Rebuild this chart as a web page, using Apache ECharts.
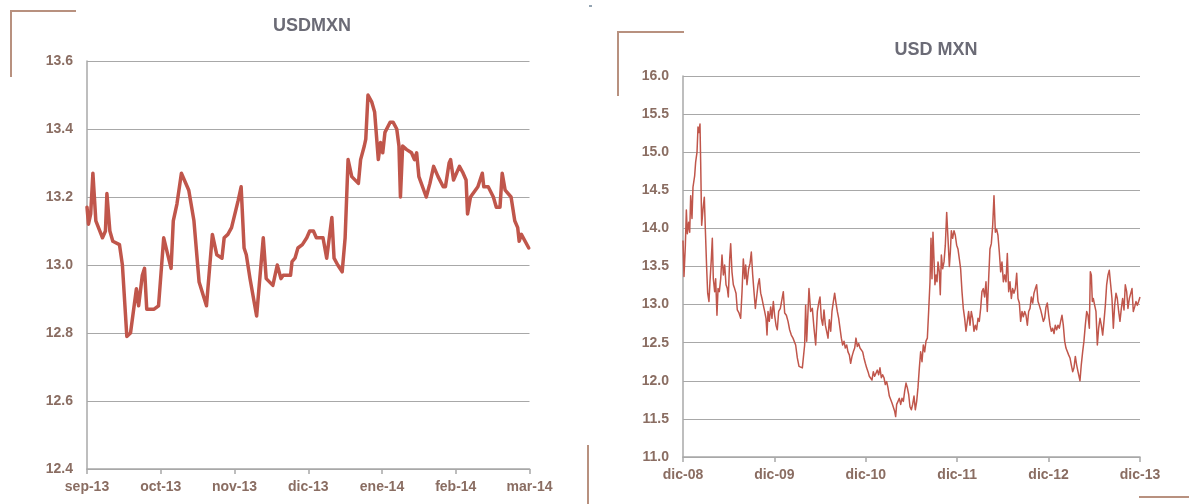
<!DOCTYPE html>
<html><head><meta charset="utf-8">
<script src="https://cdn.jsdelivr.net/npm/echarts@6/dist/echarts.min.js"></script>
<style>html,body{margin:0;padding:0;background:#fff}#c{width:1189px;height:504px}</style>
</head><body><div id="c"></div>
<script>
// ---- Left chart: USDMXN, sep-13 .. mar-14 (x in months since 1 sep 2013)
const shortMonthLabels = ['sep-13','oct-13','nov-13','dic-13','ene-14','feb-14','mar-14'];
const shortT = [0.00,0.02,0.05,0.08,0.12,0.21,0.25,0.27,0.31,0.35,0.44,0.48,0.54,0.59,0.67,0.70,0.75,0.78,0.81,0.91,0.97,
 1.04,1.14,1.17,1.22,1.28,1.38,1.45,1.52,1.62,1.64,1.70,1.76,1.83,1.86,1.91,1.96,
 2.05,2.09,2.13,2.16,2.21,2.30,2.32,2.39,2.43,2.52,2.58,2.63,2.66,2.76,2.78,2.82,2.86,2.92,2.98,
 3.02,3.07,3.11,3.20,3.25,3.32,3.35,3.40,3.46,3.50,3.54,3.59,3.68,3.71,3.76,3.78,3.81,3.86,3.90,3.95,3.98,
 4.01,4.04,4.11,4.15,4.20,4.23,4.25,4.28,4.33,4.40,4.44,4.47,4.50,4.60,4.65,4.70,4.76,4.83,4.86,4.91,4.93,4.97,
 5.05,5.10,5.14,5.16,5.20,5.30,5.36,5.38,5.44,5.51,5.55,5.60,5.63,5.67,5.75,5.80,5.84,5.86,5.89,5.99];
const shortRate = [13.17,13.12,13.15,13.27,13.13,13.08,13.10,13.21,13.10,13.07,13.06,13.00,12.79,12.80,12.93,12.88,12.97,12.99,12.87,12.87,12.88,
 13.08,12.99,13.13,13.18,13.27,13.22,13.13,12.95,12.88,12.88,13.09,13.03,13.02,13.08,13.09,13.11,
 13.19,13.23,13.05,13.03,12.96,12.85,12.85,13.08,12.96,12.94,13.00,12.96,12.97,12.97,13.01,13.02,13.05,13.06,13.08,
 13.10,13.10,13.08,13.08,13.02,13.14,13.02,13.00,12.98,13.08,13.31,13.26,13.24,13.31,13.35,13.37,13.50,13.48,13.45,13.31,13.36,
 13.33,13.39,13.42,13.42,13.40,13.35,13.20,13.35,13.34,13.33,13.31,13.33,13.26,13.20,13.24,13.29,13.26,13.23,13.23,13.30,13.31,13.25,
 13.29,13.27,13.25,13.15,13.20,13.23,13.27,13.23,13.23,13.20,13.17,13.17,13.27,13.22,13.20,13.13,13.11,13.07,13.09,13.05];

// ---- Right chart: USD MXN, dic-08 .. dic-13 (x in months since dec 2008)
const longYearLabels = ['dic-08','dic-09','dic-10','dic-11','dic-12','dic-13'];
const longT = [0,0.13,0.31,0.44,0.57,0.74,0.88,1.01,1.18,1.31,1.44,1.53,1.66,1.84,1.97,2.10,2.23,2.32,2.45,2.63,2.80,2.93,
 3.11,3.24,3.41,3.54,3.72,3.85,3.98,4.16,4.29,4.46,4.60,4.77,4.95,5.12,5.30,5.47,5.65,5.82,5.95,6.13,6.26,6.43,6.61,6.78,6.96,
 7.13,7.35,7.57,7.75,7.92,8.10,8.23,8.40,8.62,8.80,8.97,9.15,9.32,9.50,9.67,9.85,10.02,10.20,10.37,10.55,10.72,10.90,
 11.03,11.16,11.33,11.51,11.68,11.86,12.03,12.21,12.38,12.56,12.78,13.00,13.17,13.35,13.57,13.79,14.00,14.22,14.44,
 14.57,14.79,15.01,15.23,15.45,15.67,15.80,15.97,16.10,16.24,16.41,16.54,16.67,16.76,16.98,17.20,17.42,17.64,17.85,17.99,
 18.16,18.34,18.51,18.69,18.86,19.04,19.21,19.39,19.56,19.74,19.91,20.09,20.26,20.44,20.61,20.79,20.96,21.14,21.31,21.49,
 21.66,21.84,22.01,22.19,22.36,22.54,22.71,22.89,23.06,23.24,23.41,23.59,23.76,23.94,24.11,24.29,24.46,24.64,24.81,24.99,
 25.16,25.34,25.51,25.69,25.86,26.04,26.21,26.39,26.56,26.74,26.91,27.09,27.26,27.44,27.61,27.79,27.92,28.05,28.23,28.40,
 28.58,28.75,28.93,29.10,29.28,29.45,29.63,29.80,29.98,30.15,30.33,30.50,30.68,30.85,31.03,31.20,31.38,31.55,31.73,31.90,
 32.08,32.25,32.43,32.56,32.69,32.82,32.95,33.08,33.22,33.35,33.48,33.65,33.78,33.92,34.09,34.27,34.44,34.62,34.79,34.97,
 35.10,35.23,35.40,35.58,35.75,35.93,36.10,36.28,36.45,36.63,36.80,36.98,37.15,37.33,37.50,37.68,37.85,38.03,38.20,38.38,
 38.55,38.73,38.90,39.08,39.25,39.43,39.60,39.78,39.95,40.13,40.30,40.48,40.66,40.83,41.01,41.18,41.35,41.53,41.71,41.88,
 42.06,42.23,42.41,42.58,42.76,42.93,43.11,43.28,43.46,43.63,43.81,43.98,44.16,44.33,44.51,44.68,44.86,
 45.03,45.21,45.38,45.56,45.73,45.91,46.08,46.26,46.43,46.61,46.78,46.96,47.13,47.31,47.48,47.66,47.83,48.01,48.18,48.36,
 48.53,48.71,48.88,49.06,49.23,49.41,49.58,49.76,49.93,50.11,50.28,50.46,50.63,50.81,50.98,51.16,51.33,51.51,51.68,51.86,
 52.03,52.12,52.29,52.47,52.64,52.82,53.00,53.17,53.35,53.48,53.61,53.74,53.87,54.05,54.22,54.40,54.57,54.75,54.92,55.10,
 55.27,55.45,55.62,55.80,55.97,56.15,56.32,56.50,56.67,56.85,57.02,57.20,57.37,57.55,57.72,57.90,58.07,58.25,58.42,58.60,
 58.77,58.95,59.12,59.30,59.47,59.65,59.82,60.00];
const longRate = [13.84,13.37,13.78,14.24,13.93,14.08,13.95,14.43,14.13,14.54,14.52,14.69,14.87,15.00,15.33,15.26,15.37,14.87,14.04,14.26,14.41,14.00,
 13.47,13.15,13.04,13.30,13.60,13.87,13.34,13.17,13.34,12.86,13.21,13.17,13.34,13.65,13.39,13.52,13.26,13.21,13.10,13.60,13.80,13.43,13.26,13.21,13.15,
 12.93,12.89,12.82,13.17,13.60,13.34,13.52,13.26,13.47,13.54,13.69,13.39,13.17,12.95,13.10,13.26,13.34,13.15,13.08,12.99,12.91,12.82,
 12.60,12.91,12.78,12.97,12.82,13.04,12.86,12.73,12.67,12.91,12.95,12.93,13.17,12.89,12.86,12.78,12.67,12.60,12.56,
 12.56,12.47,12.30,12.19,12.21,12.17,12.30,12.47,12.99,12.52,12.91,13.21,13.23,12.91,12.95,12.69,12.47,12.91,13.04,13.10,
 12.82,12.73,12.93,12.73,12.65,12.56,12.80,12.65,12.91,13.04,13.15,13.02,12.91,12.82,12.69,12.56,12.47,12.52,12.43,12.47,
 12.38,12.34,12.23,12.32,12.38,12.43,12.56,12.45,12.49,12.43,12.43,12.38,12.30,12.23,12.17,12.12,12.06,12.08,12.01,12.12,
 12.06,12.08,12.14,12.08,12.17,12.04,12.08,12.04,11.95,11.99,11.91,11.80,11.82,11.71,11.69,11.60,11.53,11.69,11.73,11.77,
 11.69,11.77,11.73,11.86,11.97,11.91,11.82,11.66,11.62,11.69,11.80,11.62,11.73,11.91,12.17,12.38,12.25,12.47,12.38,12.52,
 12.56,12.91,13.30,13.87,13.34,13.95,13.97,13.26,13.39,13.30,13.56,13.43,13.13,13.65,13.47,13.56,13.78,14.21,13.87,13.50,
 13.69,13.97,13.87,13.97,13.91,13.78,13.73,13.60,13.47,13.17,12.95,12.82,12.65,12.78,12.91,12.73,12.91,12.82,12.65,12.73,
 12.67,12.82,12.78,12.95,13.17,13.21,13.10,13.30,12.91,13.34,13.73,13.80,14.04,14.43,13.95,13.99,13.91,13.69,13.43,13.56,
 13.30,13.39,13.30,13.67,13.17,13.30,13.08,13.21,13.15,13.21,13.41,13.08,13.02,12.78,12.91,12.84,12.91,
 12.86,12.73,12.91,12.95,13.10,13.02,13.15,13.21,13.26,13.04,12.99,12.93,12.86,12.78,12.82,12.97,13.02,12.86,12.73,12.65,
 12.69,12.62,12.73,12.67,12.73,12.69,12.78,12.86,12.73,12.52,12.43,12.41,12.34,12.30,12.21,12.12,12.17,12.32,12.21,12.12,
 12.10,12.00,12.21,12.38,12.52,12.73,12.91,12.86,12.69,13.43,13.39,13.04,13.08,12.99,12.91,12.47,12.69,12.82,12.73,12.60,
 12.78,12.99,13.26,13.39,13.45,13.26,13.08,12.69,12.99,13.15,13.08,12.91,12.78,12.95,13.08,12.93,13.26,13.17,12.95,13.08,
 13.08,13.21,12.91,12.97,13.04,12.99,13.04,13.10];

const zip = (a, b) => a.map((x, i) => [x, b[i]]);

const FONT = '"Liberation Sans", Arial, sans-serif';
const LABEL = '#8a6d62';
const GRID = '#a8a8a8';
const LINE = '#c0564b';
const DECO = '#b8917f';

const axisLabelStyle = { color: LABEL, fontFamily: FONT, fontSize: 14, fontWeight: 'bold' };

const chart = echarts.init(document.getElementById('c'), null, { renderer: 'canvas' });
chart.setOption({
  animation: false,
  backgroundColor: '#fff',
  title: [
    { text: 'USDMXN', left: 307, top: 12, textAlign: 'center',
      textStyle: { color: '#6b6b76', fontFamily: FONT, fontSize: 18, fontWeight: 'bold' } },
    { text: 'USD MXN', left: 931, top: 36, textAlign: 'center',
      textStyle: { color: '#6b6b76', fontFamily: FONT, fontSize: 18, fontWeight: 'bold' } }
  ],
  grid: [
    { left: 87, top: 61, width: 442.5, height: 408, containLabel: false },
    { left: 683, top: 76, width: 457, height: 381, containLabel: false }
  ],
  xAxis: [
    { type: 'value', gridIndex: 0, min: 0, max: 6, interval: 1,
      axisLine: { show: true, lineStyle: { color: GRID, width: 1.5 } },
      axisTick: { show: true, length: 5, lineStyle: { color: GRID, width: 1.5 } },
      splitLine: { show: false },
      axisLabel: Object.assign({ margin: 11, showMinLabel: true, showMaxLabel: true,
        formatter: v => shortMonthLabels[Math.round(v)] }, axisLabelStyle) },
    { type: 'value', gridIndex: 1, min: 0, max: 60, interval: 12,
      axisLine: { show: true, lineStyle: { color: GRID, width: 1.5 } },
      axisTick: { show: true, length: 5, lineStyle: { color: GRID, width: 1.5 } },
      splitLine: { show: false },
      axisLabel: Object.assign({ margin: 11, showMinLabel: true, showMaxLabel: true,
        formatter: v => longYearLabels[Math.round(v / 12)] }, axisLabelStyle) }
  ],
  yAxis: [
    { type: 'value', gridIndex: 0, min: 12.4, max: 13.6, interval: 0.2,
      axisLine: { show: true, lineStyle: { color: GRID, width: 1.5 } },
      axisTick: { show: false },
      splitLine: { show: true, lineStyle: { color: GRID, width: 1 } },
      axisLabel: Object.assign({ margin: 14, formatter: v => v.toFixed(1) }, axisLabelStyle) },
    { type: 'value', gridIndex: 1, min: 11, max: 16, interval: 0.5,
      axisLine: { show: true, lineStyle: { color: GRID, width: 1.5 } },
      axisTick: { show: false },
      splitLine: { show: true, lineStyle: { color: GRID, width: 1 } },
      axisLabel: Object.assign({ margin: 14, formatter: v => v.toFixed(1) }, axisLabelStyle) }
  ],
  series: [
    { type: 'line', xAxisIndex: 0, yAxisIndex: 0, data: zip(shortT, shortRate),
      showSymbol: false, symbol: 'none',
      lineStyle: { color: LINE, width: 3.5, join: 'round', cap: 'round' } },
    { type: 'line', xAxisIndex: 1, yAxisIndex: 1, data: zip(longT, longRate),
      showSymbol: false, symbol: 'none',
      lineStyle: { color: LINE, width: 1.5, join: 'round' } }
  ],
  graphic: [
    { type: 'polyline', shape: { points: [[76, 11], [11, 11], [11, 77]] }, style: { stroke: DECO, lineWidth: 2, fill: null } },
    { type: 'polyline', shape: { points: [[684, 32], [618, 32], [618, 96]] }, style: { stroke: DECO, lineWidth: 2, fill: null } },
    { type: 'line', shape: { x1: 588, y1: 445, x2: 588, y2: 504 }, style: { stroke: DECO, lineWidth: 2 } },
    { type: 'line', shape: { x1: 1139, y1: 497, x2: 1189, y2: 497 }, style: { stroke: DECO, lineWidth: 2 } },
    { type: 'line', shape: { x1: 589, y1: 6, x2: 592, y2: 6 }, style: { stroke: '#2b4a66', lineWidth: 1 } }
  ]
});
</script>
</body></html>
